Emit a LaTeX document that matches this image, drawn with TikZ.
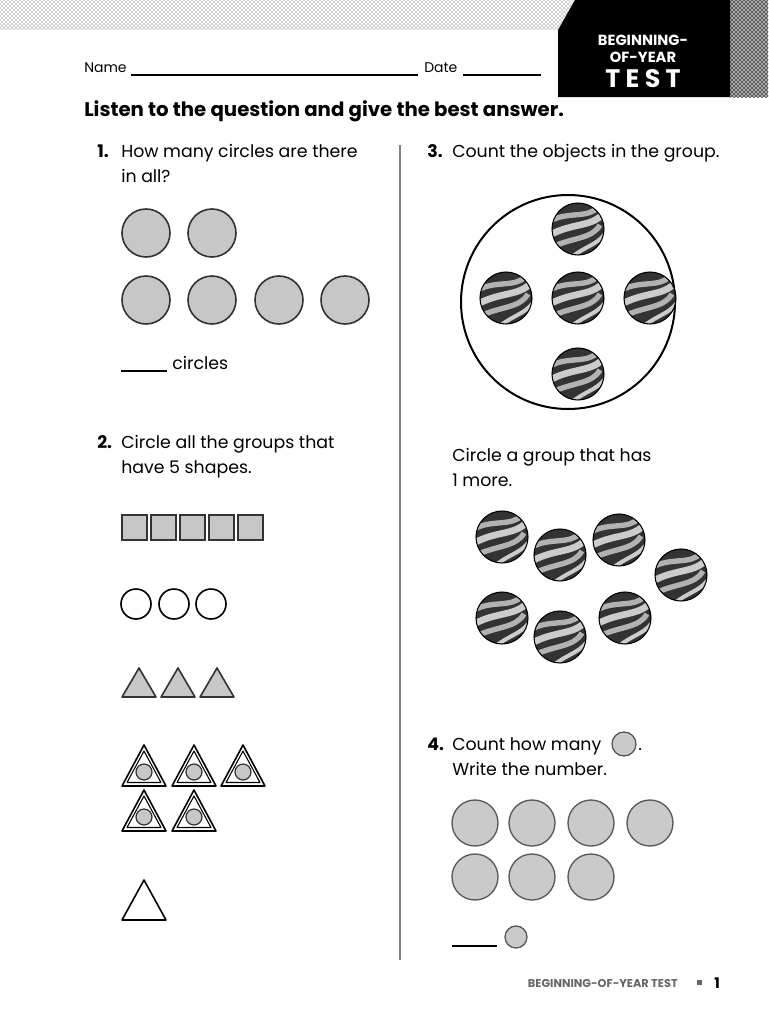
\documentclass[tikz,border=0pt]{standalone}
\usepackage{fontspec}
\setmainfont{Poppins}
\usetikzlibrary{patterns}
\definecolor{sh}{gray}{0.78}
\definecolor{dk}{gray}{0.2}
\tikzset{
  txt/.style={anchor=base west,inner sep=0pt,font=\fontsize{13}{15}\selectfont},
  num/.style={anchor=base west,inner sep=0pt,font=\bfseries\fontsize{13}{15}\selectfont},
  shc/.style={draw=dk,fill=sh,line width=1.2pt},
  lc/.style={draw=gray!70!black,fill=sh!95!white,line width=1pt},
  wc/.style={draw=black,fill=white,line width=1.2pt},
}
\newcommand{\marble}[2]{%
  \begin{scope}[shift={(#1,#2)}]
    \fill[black!80] (0,0) circle (26);
    \begin{scope}
      \clip (0,0) circle (26);
      \draw[gray!60,line width=4pt] (-28,-8) .. controls (-10,-18) and (10,-10) .. (20,-22);
      \draw[gray!40,line width=5pt] (-28,6) .. controls (-6,-6) and (12,-2) .. (24,-14);
      \draw[gray!60,line width=4pt] (-26,18) .. controls (-4,8) and (14,10) .. (22,-4);
      \draw[gray!40,line width=3pt] (-6,28) .. controls (6,18) and (18,16) .. (26,6);
    \end{scope}
    \draw[black,line width=0.8pt] (0,0) circle (26);
  \end{scope}}
\begin{document}
\begin{tikzpicture}[x=0.75pt,y=-0.75pt]
\useasboundingbox (0,0) rectangle (768,1024);
\fill[white] (0,0) rectangle (768,1024);
% header
\fill[pattern=crosshatch,pattern color=gray!45] (0,0) rectangle (575,30);
\fill[gray!60] (730,0) rectangle (768,97);
\fill[pattern=crosshatch,pattern color=black!70] (730,0) rectangle (768,97);
\fill[black] (575,0) -- (730,0) -- (730,97) -- (558,97) -- (558,30) -- cycle;
\node[font=\bfseries\fontsize{11}{12}\selectfont,text=white,inner sep=0pt] (h1) at (643,40) {BEGINNING-};
\node[font=\bfseries\fontsize{11}{12}\selectfont,text=white,inner sep=0pt] (h2) at (643,57) {OF-YEAR};
\node[font=\bfseries\fontsize{19}{20}\selectfont,text=white,inner sep=0pt] (h3) at (643,79) {T E S T};
% name/date
\node[txt,font=\fontsize{10.5}{12}\selectfont] (nm) at (84,73) {Name};
\draw[line width=0.8pt] (131,75) -- (418,75);
\node[txt,font=\fontsize{10.5}{12}\selectfont] (dt) at (424,73) {Date};
\draw[line width=0.8pt] (463,75) -- (541,75);
\node[anchor=base west,inner sep=0pt,font=\bfseries\fontsize{14.8}{16}\selectfont] (ttl) at (84,116) {Listen to the question and give the best answer.};
\draw[gray,line width=0.8pt] (400,145) -- (400,960);
% Q1
\node[num] (n1) at (97,157) {1.};
\node[txt] (q1a) at (121,157) {How many circles are there};
\node[txt] (q1b) at (121,182) {in all?};
\foreach \x/\y in {146/233,212/233,146/300,212/300,279/300,345/300}
  \draw[shc] (\x,\y) circle (24);
\draw[line width=0.8pt] (121,371) -- (167,371);
\node[txt] (c1) at (172,369) {circles};
% Q2
\node[num] (n2) at (97,448) {2.};
\node[txt] (q2a) at (121,448) {Circle all the groups that};
\node[txt] (q2b) at (121,473) {have 5 shapes.};
\foreach \i in {0,...,4}
  \draw[shc] (122+\i*29,515) rectangle ++(25,25);
\foreach \x in {136,174,211}
  \draw[wc] (\x,604) circle (15);
\foreach \x in {139,178,217}
  \draw[shc,line join=round] (\x,668) -- (\x+17,697) -- (\x-17,697) -- cycle;
\foreach \x/\y in {144/786,194/786,243/786,144/831,194/831}{
  \draw[wc,line join=round] (\x,\y-41) -- (\x+22,\y) -- (\x-22,\y) -- cycle;
  \draw[black,line width=0.8pt,line join=round] (\x,\y-35) -- (\x+17,\y-3.5) -- (\x-17,\y-3.5) -- cycle;
  \draw[shc,line width=0.9pt] (\x,\y-14) circle (8);}
\draw[wc,line join=round] (144,880) -- (166,920) -- (122,920) -- cycle;
% Q3
\node[num] (n3) at (427,157) {3.};
\node[txt] (q3a) at (452,157) {Count the objects in the group.};
\draw[black,line width=1.5pt] (568,302) circle (107);
\marble{578}{229}\marble{506}{298}\marble{578}{298}\marble{650}{298}\marble{578}{374}
\node[txt] (q3b) at (452,461) {Circle a group that has};
\node[txt] (q3c) at (452,486) {1 more.};
\marble{502}{537}\marble{560}{555}\marble{619}{540}\marble{681}{575}
\marble{502}{618}\marble{560}{637}\marble{625}{618}
% Q4
\node[num] (n4) at (427,750) {4.};
\node[txt] (q4a) at (452,750) {Count how many};
\draw[lc] (624,744) circle (12);
\node[txt] (dot) at (638,750) {.};
\node[txt] (q4b) at (452,775) {Write the number.};
\foreach \x/\y in {475/823,532/823,591/823,650/823,475/877,532/877,591/877}
  \draw[lc] (\x,\y) circle (23);
\draw[line width=0.8pt] (452,946) -- (497,946);
\draw[lc] (516,937) circle (11);
% footer
\node[anchor=base east,inner sep=0pt,text=gray!80!black,font=\bfseries\fontsize{8.5}{10}\selectfont] (ft) at (678,987) {BEGINNING-OF-YEAR TEST};
\fill[gray!80!black] (697,980) rectangle (702,985);
\node[anchor=base,inner sep=0pt,font=\bfseries\fontsize{11}{12}\selectfont] (pg) at (717,988) {1};
\end{tikzpicture}
\end{document}
